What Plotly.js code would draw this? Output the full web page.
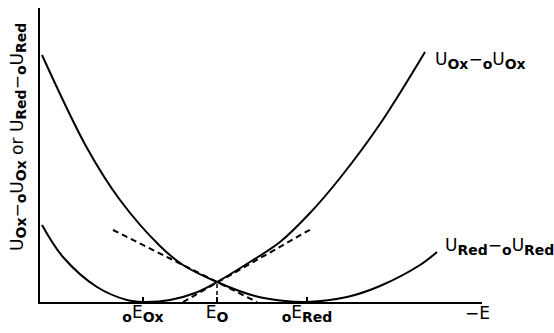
<!DOCTYPE html>
<html>
<head>
<meta charset="utf-8">
<script src="https://cdn.plot.ly/plotly-3.0.1.min.js"></script>
<style>
  html, body { margin: 0; padding: 0; background: #fff; }
  #chart { width: 554px; height: 333px; }
</style>
</head>
<body>
<div id="chart"></div>
<script>
// Potential (E) and energy curves, arbitrary units
const oxE   = [0.2, 2.3, 5.7, 8.7, 10.3, 13.0, 15.5, 17.7, 21.3, 24.0, 27.0, 30.0, 34.0, 38.5];
const oxU   = [7.7, 4.5, 1.5, 0.2, 0.0, 0.2, 0.9, 2.0, 4.2, 6.0, 8.9, 12.4, 17.8, 25.0];
const redE  = [0.2, 4.7, 8.0, 12.0, 14.3, 17.7, 21.5, 24.5, 26.7, 30.7, 34.0, 38.0, 39.7];
const redU  = [24.7, 15.4, 10.2, 5.6, 3.7, 2.0, 0.6, 0.1, 0.0, 0.5, 1.6, 3.7, 5.0];

// Tangents at the crossing point E0 and the drop line to the axis
const tanRedE = [7.3, 21.7];
const tanRedU = [7.2, 0.0];
const tanOxE  = [14.3, 27.3];
const tanOxU  = [0.0, 7.4];
const dropE   = [17.7, 17.7];
const dropU   = [0.0, 2.0];

const tickE = [10.3, 17.7, 26.7];

const sub = t => '<sub><span style="font-size:14px"><b>' + t + '</b></span></sub>';
const tickLabels = [
  sub('o') + 'E' + sub('Ox'),
  'E' + sub('O'),
  sub('o') + 'E' + sub('Red')
];
const oxLabel  = 'U' + sub('Ox') + '−' + sub('o') + 'U' + sub('Ox');
const redLabel = 'U' + sub('Red') + '−' + sub('o') + 'U' + sub('Red');
const yLabel   = oxLabel + ' or ' + redLabel;

const FONT = 'DejaVu Sans, sans-serif';
const solid = { color: '#000', width: 2, shape: 'spline', smoothing: 1 };
const dashed = { color: '#000', width: 2, dash: '6px,4px' };

const traces = [
  { x: oxE, y: oxU, mode: 'lines', line: solid },
  { x: redE, y: redU, mode: 'lines', line: solid },
  { x: tanRedE, y: tanRedU, mode: 'lines', line: dashed },
  { x: tanOxE, y: tanOxU, mode: 'lines', line: dashed },
  { x: dropE, y: dropU, mode: 'lines', line: { color: '#000', width: 1.5, dash: '4px,3px' } }
];

const layout = {
  width: 554, height: 333,
  margin: { l: 40, r: 72, t: 8, b: 31 },
  paper_bgcolor: '#fff', plot_bgcolor: '#fff',
  showlegend: false,
  font: { family: FONT, color: '#000', size: 17 },
  xaxis: {
    range: [0, 44.2], showgrid: false, zeroline: false,
    showline: true, linecolor: '#000', linewidth: 2,
    tickvals: tickE, ticktext: tickLabels,
    ticks: 'inside', ticklen: 5, tickwidth: 2, tickcolor: '#000',
    ticklabelstandoff: -6,
    tickfont: { family: FONT, size: 17, color: '#000' },
    fixedrange: true
  },
  yaxis: {
    range: [0, 29.4], showgrid: false, zeroline: false,
    showline: true, linecolor: '#000', linewidth: 2,
    showticklabels: false, ticks: '',
    fixedrange: true
  },
  annotations: [
    { text: oxLabel, xref: 'x', yref: 'y', x: 39.3, y: 24.2, xanchor: 'left', yanchor: 'middle', showarrow: false, font: { family: FONT, size: 17 } },
    { text: redLabel, xref: 'x', yref: 'y', x: 40.3, y: 5.6, xanchor: 'left', yanchor: 'middle', showarrow: false, font: { family: FONT, size: 17 } },
    { text: '−E', xref: 'x', yref: 'paper', x: 43.7, y: -0.037, xanchor: 'center', yanchor: 'middle', showarrow: false, font: { family: FONT, size: 17 } },
    { text: yLabel, xref: 'paper', yref: 'paper', x: -0.05, y: 0.561, xanchor: 'center', yanchor: 'middle', textangle: -90, showarrow: false, font: { family: FONT, size: 17 } }
  ]
};

Plotly.newPlot('chart', traces, layout, { staticPlot: true, displayModeBar: false });
</script>
</body>
</html>
